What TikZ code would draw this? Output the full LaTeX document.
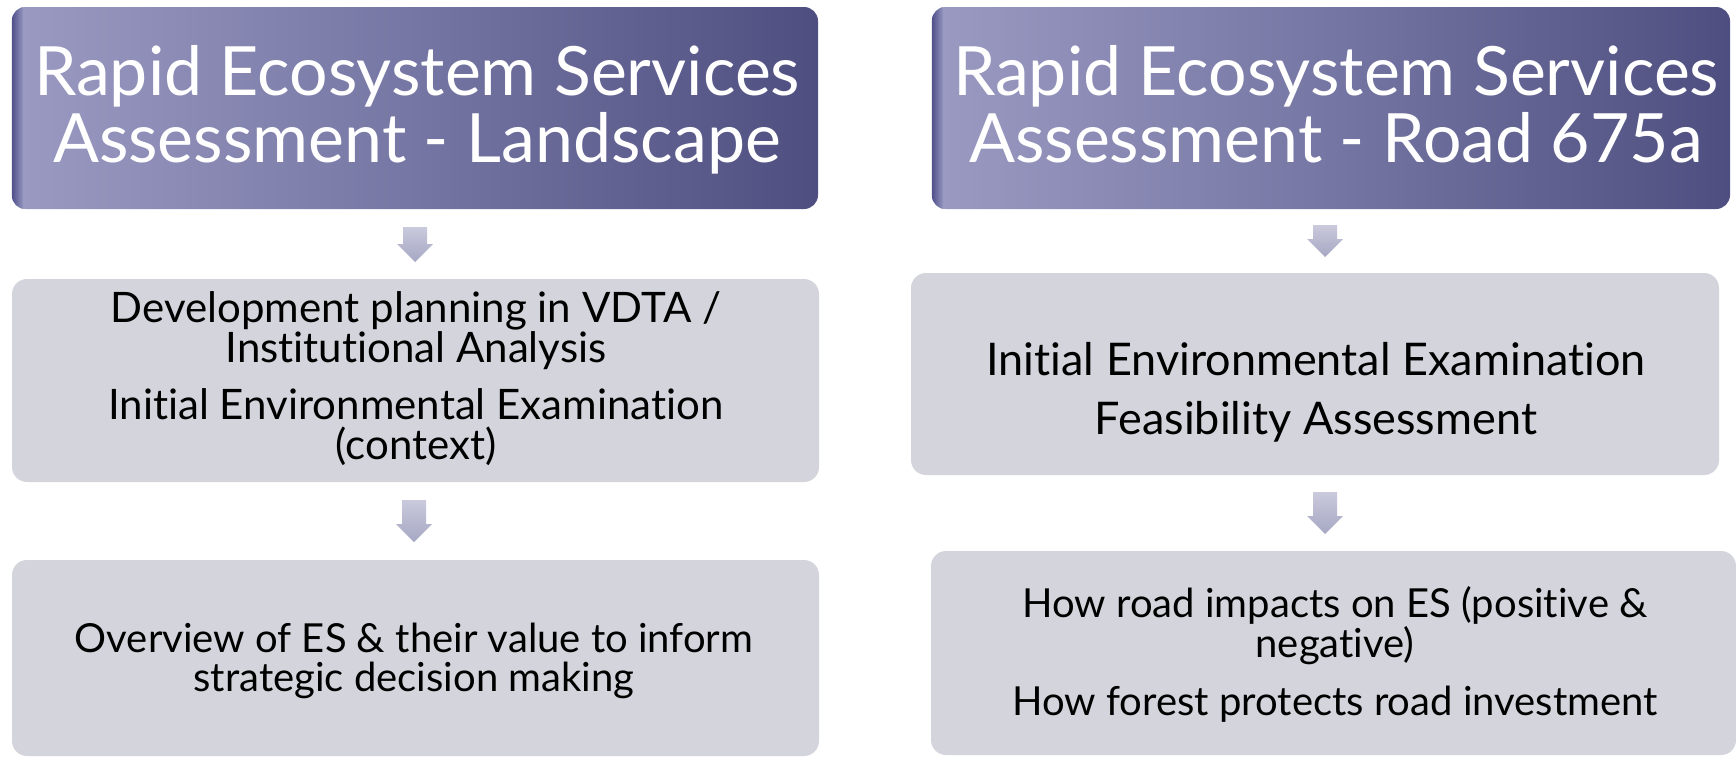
\documentclass[tikz,border=0pt]{standalone}
\usepackage{fontspec}
\setmainfont{Lato}[Ligatures={NoCommon,NoRare},Contextuals=NoAlternate]
\usetikzlibrary{calc}
\definecolor{purpL}{HTML}{9A9AC2}
\definecolor{purpM}{HTML}{7676A4}
\definecolor{purpD}{HTML}{4E4E80}
\definecolor{bevel}{HTML}{50508A}
\definecolor{grayfill}{HTML}{D4D5DC}
\definecolor{arrT}{HTML}{C9CADC}
\definecolor{arrB}{HTML}{A6A7C3}
\tikzset{
  titlebox/.style={rounded corners=14pt, inner sep=0pt, left color=purpL, right color=purpD, middle color=purpM},
  graybox/.style={rounded corners=15pt, inner sep=0pt, fill=grayfill},
  ttl/.style={text=white, inner sep=0pt, anchor=base, font=\fontsize{68}{68}\selectfont},
  bodyA/.style={text=black, inner sep=0pt, anchor=base, font=\fontsize{42}{42}\selectfont},
  bodyL/.style={text=black, inner sep=0pt, anchor=base, font=\fontsize{40}{40}\selectfont},
  bodyB/.style={text=black, inner sep=0pt, anchor=base, font=\fontsize{45}{45}\selectfont},
  bodyC/.style={text=black, inner sep=0pt, anchor=base, font=\fontsize{40}{40}\selectfont},
  arrowsty/.style={top color=arrT, bottom color=arrB, draw=none}
}
\newcommand\esarr[4]{%
  \coordinate (#1) at (#2,#3);
  \shade[arrowsty] (#2-12,#3) -- (#2+12,#3) -- (#2+12,#4-18) -- (#2+18,#4-18) -- (#2,#4) -- (#2-18,#4-18) -- (#2-12,#4-18) -- cycle;}
\begin{document}
\begin{tikzpicture}[x=1pt,y=-1pt]
\useasboundingbox (0,0) rectangle (1736,758);
\fill[white] (0,0) rectangle (1736,758);
% title boxes
\node[titlebox, minimum width=806pt, minimum height=202pt] (t1) at (415,108) {};
\node[titlebox, minimum width=798pt, minimum height=202pt] (t2) at (1331,108) {};
\foreach \b in {t1,t2}{
  \begin{scope}
    \clip[rounded corners=14pt] (\b.north west) rectangle (\b.south east);
    \shade[left color=bevel, right color=purpL!90!bevel] (\b.north west) rectangle ($(\b.south west)+(11,0)$);
  \end{scope}
}
% gray boxes
\node[graybox, minimum width=807pt, minimum height=203pt] (g1) at (415.5,380.5) {};
\node[graybox, minimum width=807pt, minimum height=196pt] (g2) at (415.5,658) {};
\node[graybox, minimum width=808pt, minimum height=202pt] (g3) at (1315,374) {};
\node[graybox, minimum width=805pt, minimum height=204pt] (g4) at (1333.5,653) {};
% arrows
\esarr{a1}{415}{227}{262}
\esarr{a2}{414}{500}{542}
\esarr{a3}{1325}{225}{257}
\esarr{a4}{1325}{492}{534}
% title texts
\node[ttl] (t1a) at (417,95) {Rapid Ecosystem Services};
\node[ttl] (t1b) at (417,162) {Assessment - Landscape};
\node[ttl] (t2a) at (1336,95) {Rapid Ecosystem Services};
\node[ttl] (t2b) at (1336,162) {Assessment - Road 675a};
% left texts
\node[bodyA] (g1a) at (416,322) {Development planning in VDTA /};
\node[bodyA] (g1b) at (416,362) {Institutional Analysis};
\node[bodyA] (g1c) at (416,419) {Initial Environmental Examination};
\node[bodyA] (g1d) at (416,459) {(context)};
\node[bodyL] (g2a) at (414,652) {Overview of ES \& their value to inform};
\node[bodyL] (g2b) at (414,691) {strategic decision making};
% right texts
\node[bodyB] (g3a) at (1316,375) {Initial Environmental Examination};
\node[bodyB] (g3b) at (1316,434) {Feasibility Assessment};
\node[bodyC] (g4a) at (1335,617) {How road impacts on ES (positive \&};
\node[bodyC] (g4b) at (1335,657) {negative)};
\node[bodyC] (g4c) at (1335,715) {How forest protects road investment};
\end{tikzpicture}
\end{document}
